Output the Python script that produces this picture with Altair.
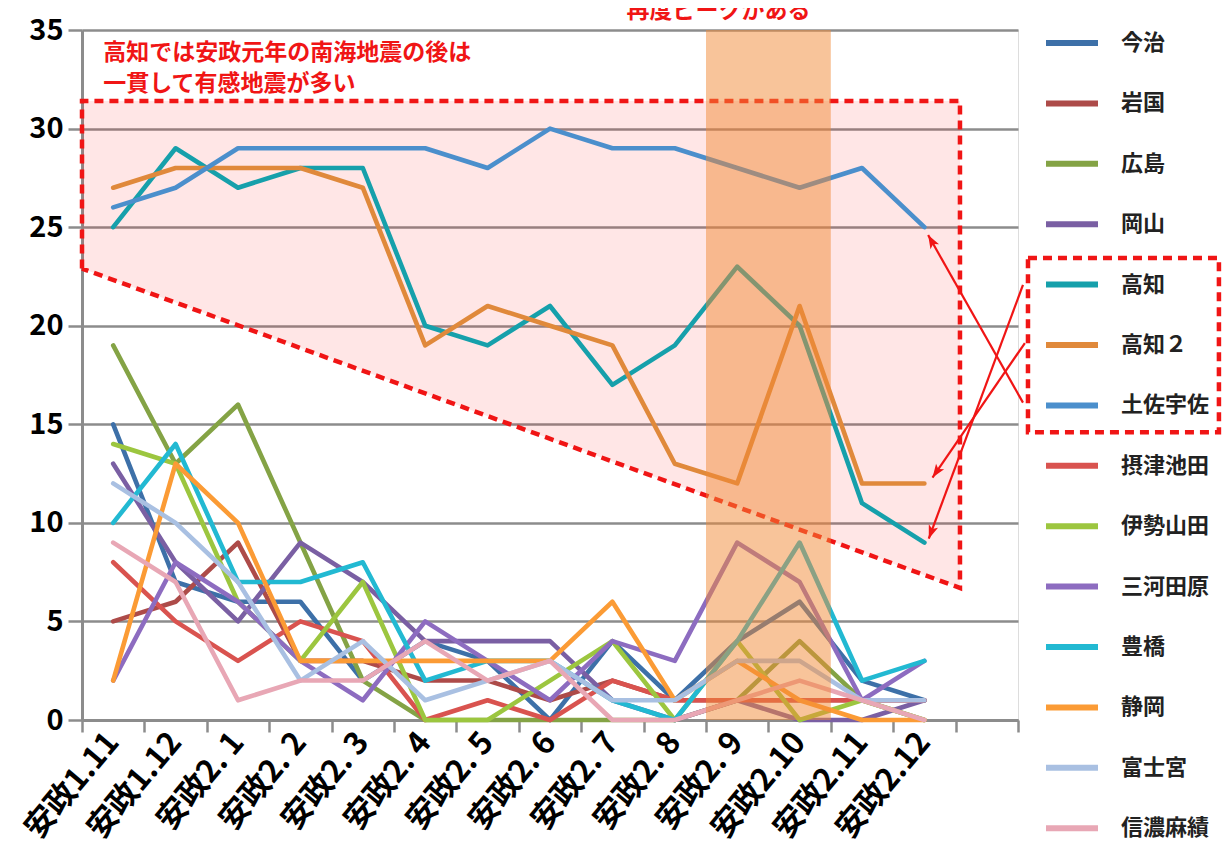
import math
import altair as alt
import pandas as pd

# ---------------- data ----------------
categories = ["安政1.11", "安政1.12", "安政2. 1", "安政2. 2", "安政2. 3", "安政2. 4", "安政2. 5",
              "安政2. 6", "安政2. 7", "安政2. 8", "安政2. 9", "安政2.10", "安政2.11", "安政2.12"]

series_names = ["今治", "岩国", "広島", "岡山", "高知", "高知２", "土佐宇佐",
                "摂津池田", "伊勢山田", "三河田原", "豊橋", "静岡", "富士宮", "信濃麻績"]

imabari   = [15, 7, 6, 6, 2, 4, 3, 0, 4, 1, 4, 6, 2, 1]
iwakuni   = [5, 6, 9, 3, 3, 2, 2, 1, 2, 1, 1, 1, 1, 1]
hiroshima = [19, 13, 16, 9, 2, 0, 0, 0, 0, 0, 1, 4, 1, 0]
okayama   = [13, 8, 5, 9, 7, 4, 4, 4, 1, 0, 1, 0, 0, 1]
kochi     = [25, 29, 27, 28, 28, 20, 19, 21, 17, 19, 23, 20, 11, 9]
kochi2    = [27, 28, 28, 28, 27, 19, 21, 20, 19, 13, 12, 21, 12, 12]
tosausa   = [26, 27, 29, 29, 29, 29, 28, 30, 29, 29, 28, 27, 28, 25]
settsu    = [8, 5, 3, 5, 4, 0, 1, 0, 2, 1, 1, 1, 1, 1]
iseyamada = [14, 13, 6, 3, 7, 0, 0, 2, 4, 0, 4, 0, 1, 0]
mikawa    = [2, 8, 6, 3, 1, 5, 3, 1, 4, 3, 9, 7, 1, 3]
toyohashi = [10, 14, 7, 7, 8, 2, 3, 3, 1, 0, 4, 9, 2, 3]
shizuoka  = [2, 13, 10, 3, 3, 3, 3, 3, 6, 1, 3, 1, 0, 0]
fujinomiya = [12, 10, 7, 2, 4, 1, 2, 3, 1, 1, 3, 3, 1, 1]
shinano   = [9, 7, 1, 2, 2, 4, 2, 3, 0, 0, 1, 2, 1, 0]

all_values = [imabari, iwakuni, hiroshima, okayama, kochi, kochi2, tosausa,
              settsu, iseyamada, mikawa, toyohashi, shizuoka, fujinomiya, shinano]

colors = ["#3d70a8", "#ad4b49", "#84a345", "#7a5fa3", "#16a0ab", "#e0893b", "#4b8fcc",
          "#d9534f", "#9cc63f", "#8d6cc0", "#22b9d2", "#fb9b35", "#a9c0e2", "#e8a7b5"]

highlight_start = "安政2. 9"
highlight_end = "安政2.10"

# ---------------- layout constants ----------------
W, H = 936, 690
Y_MAX = 35
XQ_MAX = len(categories) + 1          # one empty band at the right end
PX_X = W / XQ_MAX
PX_Y = H / Y_MAX
FONT = "Noto Sans CJK JP"
RED = "#f01515"
GREY = "#8c8c8c"

rows = []
for name, vals in zip(series_names, all_values):
    for i, (c, v) in enumerate(zip(categories, vals)):
        rows.append({"series": name, "category": c, "idx": i, "value": v})
df = pd.DataFrame(rows)

axis_domain = categories + [" "]

y_scale = alt.Scale(domain=[0, Y_MAX], nice=False)
y_axis = alt.Axis(title=None, values=list(range(0, Y_MAX + 1, 5)), grid=True,
                  gridColor=GREY, gridWidth=2.5, domainColor=GREY, domainWidth=3,
                  tickColor=GREY, tickWidth=2.5, tickSize=14, labelFontSize=29,
                  labelFont=FONT, labelFontWeight="bold", labelColor="black",
                  labelPadding=5)
xq_scale = alt.Scale(domain=[0, XQ_MAX], nice=False, zero=False)

# ---------------- pink region (annotation) ----------------
pink_top, pink_left_bottom, pink_right_bottom, pink_right = 31.4, 22.9, 6.7, 14.07
pink_area_df = pd.DataFrame({"x": [0, pink_right], "top": [pink_top, pink_top],
                             "bottom": [pink_left_bottom, pink_right_bottom]})
pink_area = alt.Chart(pink_area_df).mark_area(color="#ff1a1a", opacity=0.11).encode(
    x=alt.X("x:Q", scale=xq_scale, axis=None),
    y=alt.Y("top:Q", scale=y_scale, axis=y_axis),
    y2="bottom:Q",
)
outline_df = pd.DataFrame({
    "x": [0, 0, pink_right, pink_right, 0],
    "y": [pink_left_bottom, pink_top, pink_top, pink_right_bottom, pink_left_bottom],
    "o": [0, 1, 2, 3, 4],
})
pink_outline = alt.Chart(outline_df).mark_line(color=RED, strokeWidth=4.5, strokeDash=[9, 6]).encode(
    x=alt.X("x:Q", scale=xq_scale, axis=None),
    y=alt.Y("y:Q", scale=y_scale, axis=y_axis),
    order="o:Q",
)

# ---------------- data lines ----------------
lines = alt.Chart(df).mark_line(strokeWidth=4.6, strokeJoin="round", strokeCap="round").encode(
    x=alt.X("category:N", sort=axis_domain,
            scale=alt.Scale(type="band", domain=axis_domain, paddingInner=0, paddingOuter=0),
            axis=alt.Axis(title=None, tickBand="extent", grid=False, domainColor=GREY, domainWidth=3,
                          tickColor=GREY, tickWidth=2.5, tickSize=12, labelAngle=310,
                          labelAlign="right", labelBaseline="middle", labelFontSize=31,
                          labelFont=FONT, labelFontWeight="bold", labelColor="black",
                          labelPadding=5, labelOverlap=False, labelLimit=0)),
    y=alt.Y("value:Q", scale=y_scale, axis=y_axis),
    color=alt.Color("series:N", sort=series_names,
                    scale=alt.Scale(domain=series_names, range=colors),
                    legend=alt.Legend(title=None, orient="none", legendX=961, legendY=-16,
                                      symbolType="stroke", symbolStrokeWidth=6, symbolSize=2704,
                                      labelFontSize=22, labelFont=FONT, labelFontWeight="bold",
                                      labelColor="#222222", labelOffset=20, rowPadding=19.4,
                                      padding=0, direction="vertical", columns=1, labelLimit=0)),
    detail="series:N",
    order=alt.Order("idx:Q"),
)

# ---------------- orange highlight band ----------------
band_lo = categories.index(highlight_start)
band_hi = categories.index(highlight_end) + 1
band = alt.Chart(pd.DataFrame({"a": [band_lo], "b": [band_hi], "y0": [0], "y1": [Y_MAX]})).mark_rect(
    color="#f28a36", opacity=0.5).encode(
    x=alt.X("a:Q", scale=xq_scale, axis=None),
    x2="b:Q",
    y=alt.Y("y0:Q", scale=y_scale, axis=y_axis),
    y2="y1:Q",
)

# ---------------- texts ----------------
note_df = pd.DataFrame({"x": [0.34, 0.34], "y": [33.85, 32.25],
                        "t": ["高知では安政元年の南海地震の後は", "一貫して有感地震が多い"]})
note = alt.Chart(note_df).mark_text(align="left", baseline="middle", fontSize=23, font=FONT,
                                    fontWeight="bold", color=RED).encode(
    x=alt.X("x:Q", scale=xq_scale, axis=None),
    y=alt.Y("y:Q", scale=y_scale, axis=y_axis),
    text="t:N",
)
peak_df = pd.DataFrame({"x": [10.2], "y": [35.95], "t": ["再度ピークがある"]})
peak = alt.Chart(peak_df).mark_text(align="center", baseline="middle", fontSize=23, font=FONT,
                                    fontWeight="bold", color=RED).encode(
    x=alt.X("x:Q", scale=xq_scale, axis=None),
    y=alt.Y("y:Q", scale=y_scale, axis=y_axis),
    text="t:N",
)

# ---------------- arrows ----------------
arrow_df = pd.DataFrame({
    "x1": [15.08, 15.08, 15.11],
    "y1": [16.1, 22.07, 19.12],
    "x2": [13.56, 13.57, 13.63],
    "y2": [24.6, 9.2, 12.3],
})
def _angle(r):
    dx = (r.x2 - r.x1) * PX_X
    dy = -(r.y2 - r.y1) * PX_Y
    return (math.degrees(math.atan2(dx, -dy)) + 360) % 360
arrow_df["ang"] = arrow_df.apply(_angle, axis=1)

arrow_lines = alt.Chart(arrow_df).mark_rule(color=RED, strokeWidth=2.2).encode(
    x=alt.X("x1:Q", scale=xq_scale, axis=None),
    y=alt.Y("y1:Q", scale=y_scale, axis=y_axis),
    x2="x2:Q",
    y2="y2:Q",
)
arrow_heads = alt.Chart(arrow_df).mark_point(
    shape="M0,0 L-0.55,1.5 L0,1.15 L0.55,1.5 Z", filled=True, color=RED, opacity=1, size=320).encode(
    x=alt.X("x2:Q", scale=xq_scale, axis=None),
    y=alt.Y("y2:Q", scale=y_scale, axis=y_axis),
    angle=alt.Angle("ang:Q", scale=None),
)

# ---------------- dashed box around the Kochi legend entries ----------------
box_df = pd.DataFrame({"x": [15.16], "x2": [18.22], "y": [23.43], "y2": [14.6]})
legend_box = alt.Chart(box_df).mark_rect(fill=None, stroke=RED, strokeWidth=4.5,
                                         strokeDash=[9, 6]).encode(
    x=alt.X("x:Q", scale=xq_scale, axis=None),
    x2="x2:Q",
    y=alt.Y("y:Q", scale=y_scale, axis=y_axis),
    y2="y2:Q",
)

chart = alt.layer(
    pink_area, pink_outline, lines, band, note, peak, arrow_lines, arrow_heads, legend_box
).resolve_scale(x="independent").properties(
    width=W, height=H,
    autosize=alt.AutoSizeParams(type="none"),
    padding={"left": 74, "top": 22, "right": 204, "bottom": 137},
).configure_view(stroke=None).configure(background="white")

chart.save("out.html", embed_options={"renderer": "svg", "actions": False})
